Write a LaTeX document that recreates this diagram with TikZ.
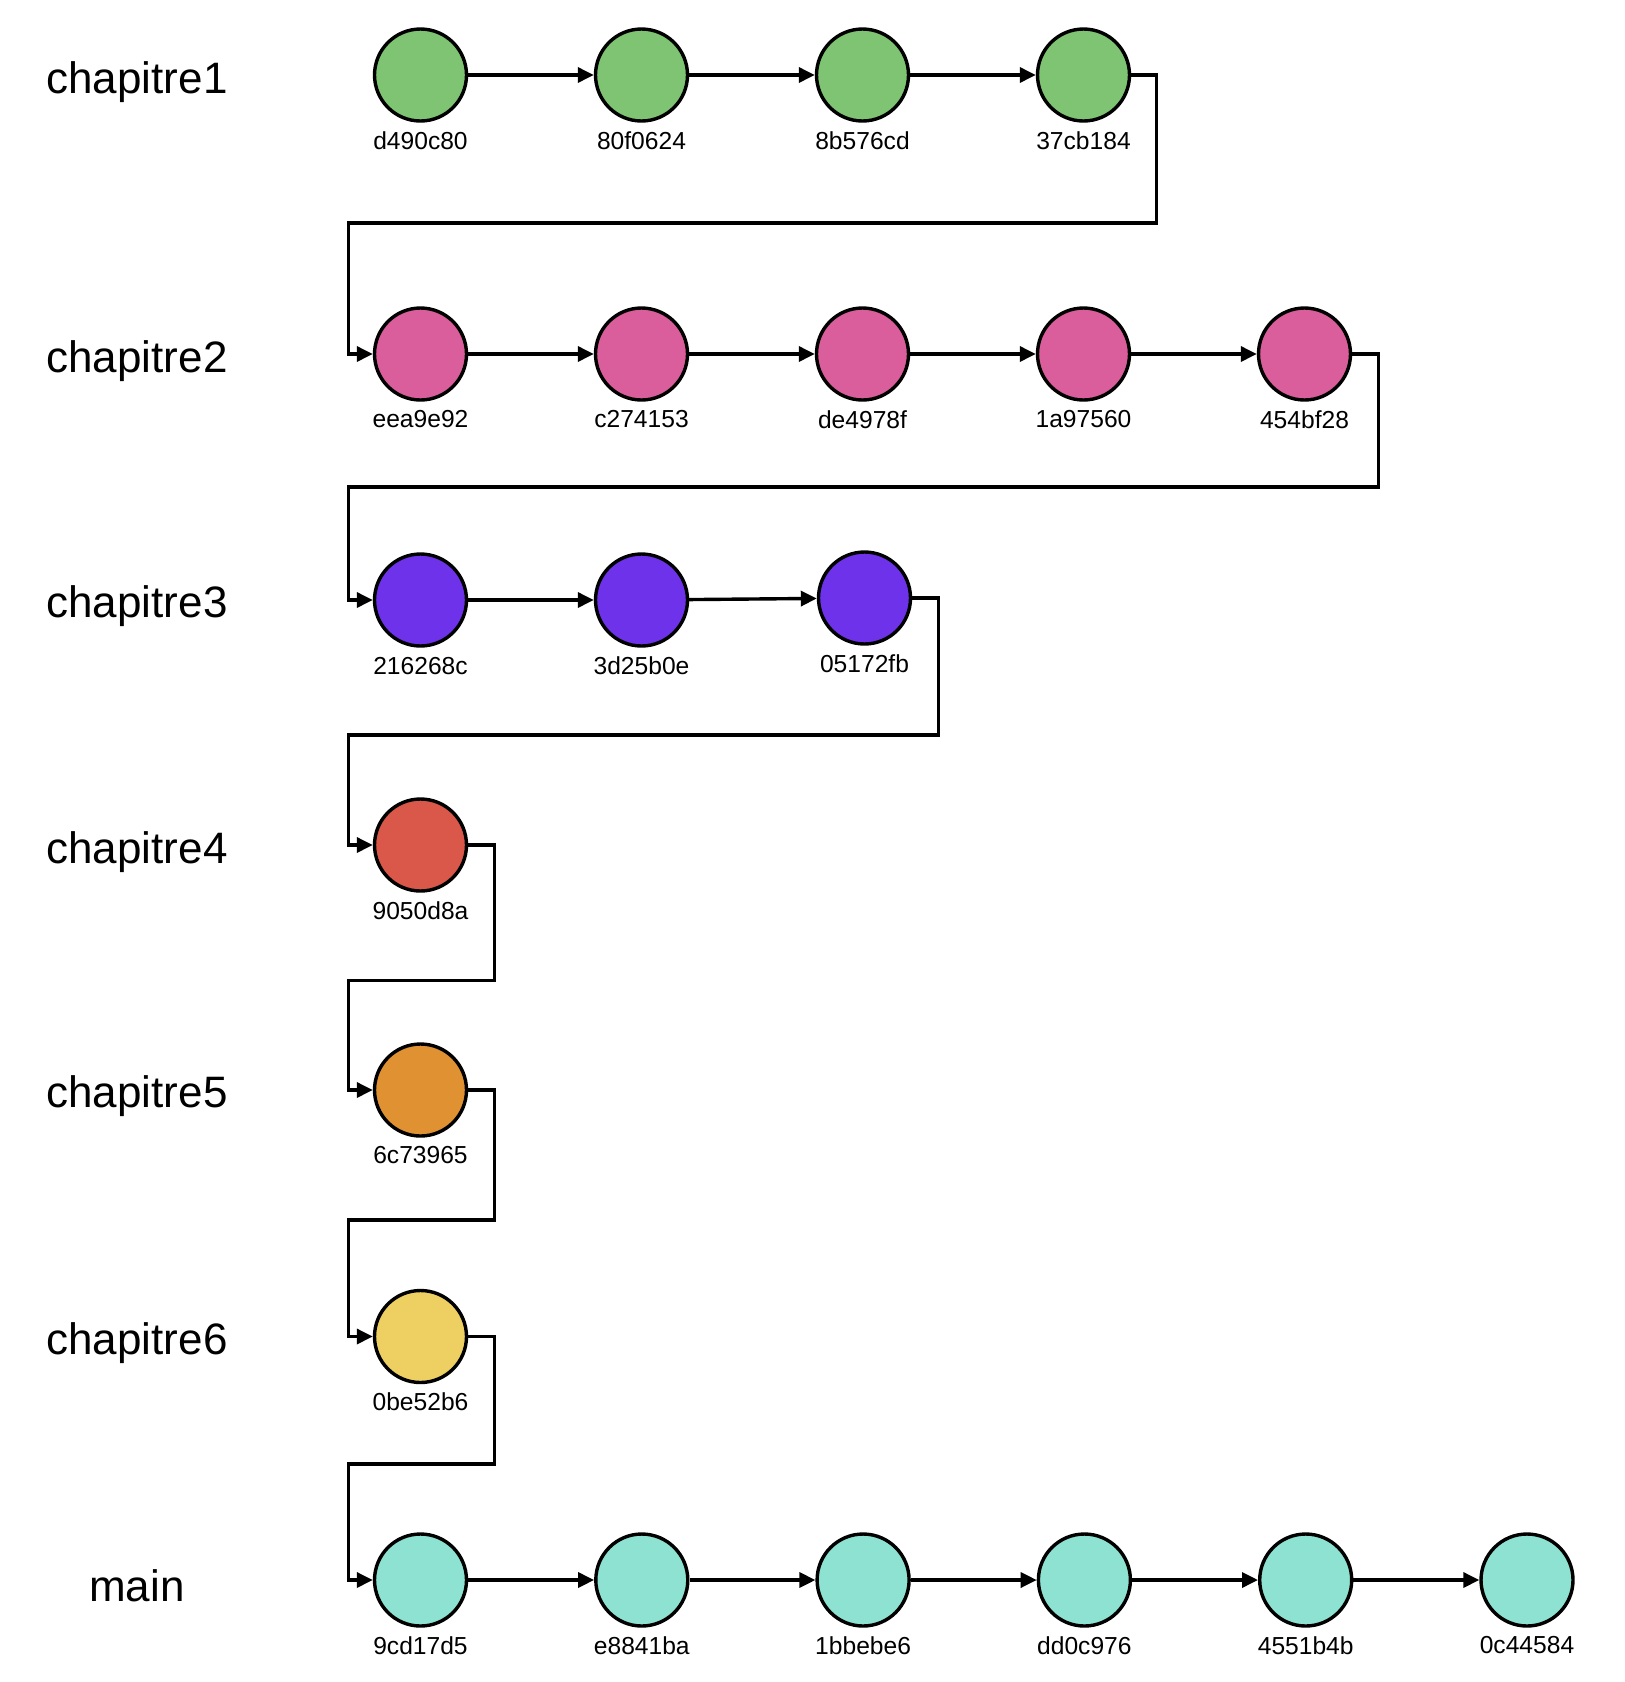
\documentclass[tikz,border=0pt]{standalone}
\usepackage{fontspec}
\setmainfont{Liberation Sans}
\usepackage{tikz}
\usetikzlibrary{arrows.meta}
\definecolor{ch1}{HTML}{7EC472}
\definecolor{ch2}{HTML}{DA5E9C}
\definecolor{ch3}{HTML}{6E32EA}
\definecolor{ch4}{HTML}{D9584A}
\definecolor{ch5}{HTML}{E09233}
\definecolor{ch6}{HTML}{EED062}
\definecolor{mainc}{HTML}{8DE2D2}
\tikzstyle{commit}=[circle, draw, line width=1.7pt, minimum size=46pt, inner sep=0pt, color=black]
\tikzstyle{hash}=[inner sep=0pt, font=\fontsize{12.3}{14}\selectfont]
\tikzstyle{branch}=[inner sep=0pt, font=\fontsize{22}{26}\selectfont]
\tikzstyle{link}=[line width=1.7pt, -{Triangle[length=8pt,width=7.5pt]}]

\begin{document}
\begin{tikzpicture}[x=0.5pt, y=-0.5pt]
    \useasboundingbox (0,0) rectangle (1624,1682);
    % branch names on the left
    \foreach \n/\y in {chapitre1/82, chapitre2/361, chapitre3/606, chapitre4/852,
                       chapitre5/1096, chapitre6/1343, main/1586}
    \node[branch] (b-\n) at (137,\y) {\n};

    % commits, one row per branch
    \foreach \h/\c/\y [count=\i] in {d490c80/ch1/75, 80f0624/ch1/75, 8b576cd/ch1/75, 37cb184/ch1/75}{
      \node[commit, fill=\c] (\h) at ({420.5+221*(\i-1)},\y) {};
      \node[hash] (l-\h) at ({420.5+221*(\i-1)},\y+65.5) {\h};
    }
    \foreach \h [count=\i] in {eea9e92, c274153, de4978f, 1a97560, 454bf28}{
      \node[commit, fill=ch2] (\h) at ({420.5+221*(\i-1)},354) {};
      \node[hash] (l-\h) at ({420.5+221*(\i-1)},419.5) {\h};
    }
    \foreach \h/\x/\y in {216268c/420.5/600, 3d25b0e/641.5/600, 05172fb/864.5/598}{
      \node[commit, fill=ch3] (\h) at (\x,\y) {};
      \node[hash] (l-\h) at (\x,\y+66) {\h};
    }
    \foreach \h/\c/\y in {9050d8a/ch4/845, 6c73965/ch5/1090, 0be52b6/ch6/1336.5}{
      \node[commit, fill=\c] (\h) at (420.5,\y) {};
      \node[hash] (l-\h) at (420.5,\y+65.5) {\h};
    }
    \foreach \h [count=\i] in {9cd17d5, e8841ba, 1bbebe6, dd0c976, 4551b4b, 0c44584}{
      \node[commit, fill=mainc] (\h) at ({420.5+221.3*(\i-1)},1580) {};
      \node[hash] (l-\h) at ({420.5+221.3*(\i-1)},1645.5) {\h};
    }

    % arrows along each branch
    \foreach \a/\b in {d490c80/80f0624, 80f0624/8b576cd, 8b576cd/37cb184,
                       eea9e92/c274153, c274153/de4978f, de4978f/1a97560, 1a97560/454bf28,
                       216268c/3d25b0e, 3d25b0e/05172fb,
                       9cd17d5/e8841ba, e8841ba/1bbebe6, 1bbebe6/dd0c976, dd0c976/4551b4b, 4551b4b/0c44584}
    \draw[link] (\a) -- (\b);

    % jumps from the tip of one branch to the start of the next
    \foreach \a/\b/\x/\y in {37cb184/eea9e92/1156.5/223, 454bf28/216268c/1378.5/487,
                             05172fb/9050d8a/938.5/735, 9050d8a/6c73965/494.5/980.5,
                             6c73965/0be52b6/494.5/1220, 0be52b6/9cd17d5/494.5/1464}
    \draw[link] (\a.east) -| (\x,\y) -- (348.6,\y) |- (\b.west);
\end{tikzpicture}
\end{document}
